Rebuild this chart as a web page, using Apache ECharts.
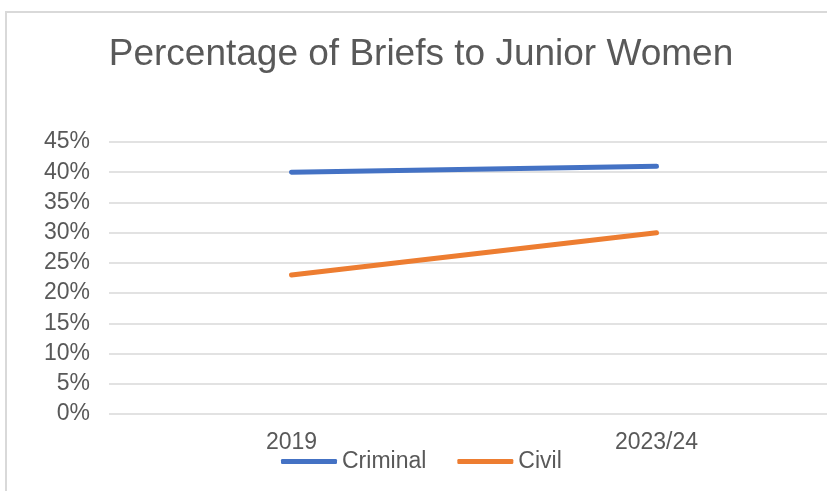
<!DOCTYPE html>
<html>
<head>
<meta charset="utf-8">
<script src="https://cdn.jsdelivr.net/npm/echarts@6/dist/echarts.min.js"></script>
<style>
  html, body { margin: 0; padding: 0; background: #fff; }
  #chart { width: 827px; height: 491px; }
  .frame { position: absolute; left: 5px; top: 11px; width: 840px; height: 500px; border: 2px solid #d9d9d9; box-sizing: border-box; pointer-events: none; }
</style>
</head>
<body>
<div id="chart"></div>
<div class="frame"></div>
<script>
const categories = ['2019', '2023/24']
const criminal = [40, 41]
const civil = [23, 30]
const yTicks = [0, 5, 10, 15, 20, 25, 30, 35, 40, 45]

const chart = echarts.init(document.getElementById('chart'))
const option = {
  animation: false,
  title: {
    text: 'Percentage of Briefs to Junior Women',
    left: 421,
    top: 36,
    padding: 0,
    textAlign: 'center',
    textStyle: {
      fontFamily: 'Liberation Sans',
      fontSize: 37,
      fontWeight: 'normal',
      color: '#595959'
    }
  },
  grid: {
    left: 109,
    right: -12,
    top: 142,
    bottom: 77,
    outerBoundsMode: 'none'
  },
  legend: {
    data: ['Criminal', 'Civil'],
    left: 276,
    top: 445,
    itemWidth: 56,
    itemHeight: 5,
    itemGap: 31,
    icon: 'roundRect',
    textStyle: {
      fontFamily: 'Liberation Sans',
      fontSize: 23,
      color: '#595959'
    }
  },
  xAxis: {
    type: 'category',
    data: categories,
    axisLine: { show: false },
    axisTick: { show: false },
    axisLabel: {
      margin: 17,
      fontFamily: 'Liberation Sans',
      fontSize: 23,
      color: '#595959'
    }
  },
  yAxis: {
    type: 'value',
    min: yTicks[0],
    max: yTicks[yTicks.length - 1],
    interval: 5,
    axisLine: { show: false },
    axisTick: { show: false },
    axisLabel: {
      margin: 19,
      fontFamily: 'Liberation Sans',
      fontSize: 23,
      color: '#595959',
      formatter: '{value}%'
    },
    splitLine: { lineStyle: { color: '#d9d9d9', width: 1.5 } }
  },
  series: [
    {
      name: 'Criminal',
      type: 'line',
      data: criminal,
      symbol: 'none',
      color: '#4472c4',
      lineStyle: { width: 5, cap: 'round' }
    },
    {
      name: 'Civil',
      type: 'line',
      data: civil,
      symbol: 'none',
      color: '#ed7d31',
      lineStyle: { width: 5, cap: 'round' }
    }
  ]
}
chart.setOption(option)
</script>
</body>
</html>
